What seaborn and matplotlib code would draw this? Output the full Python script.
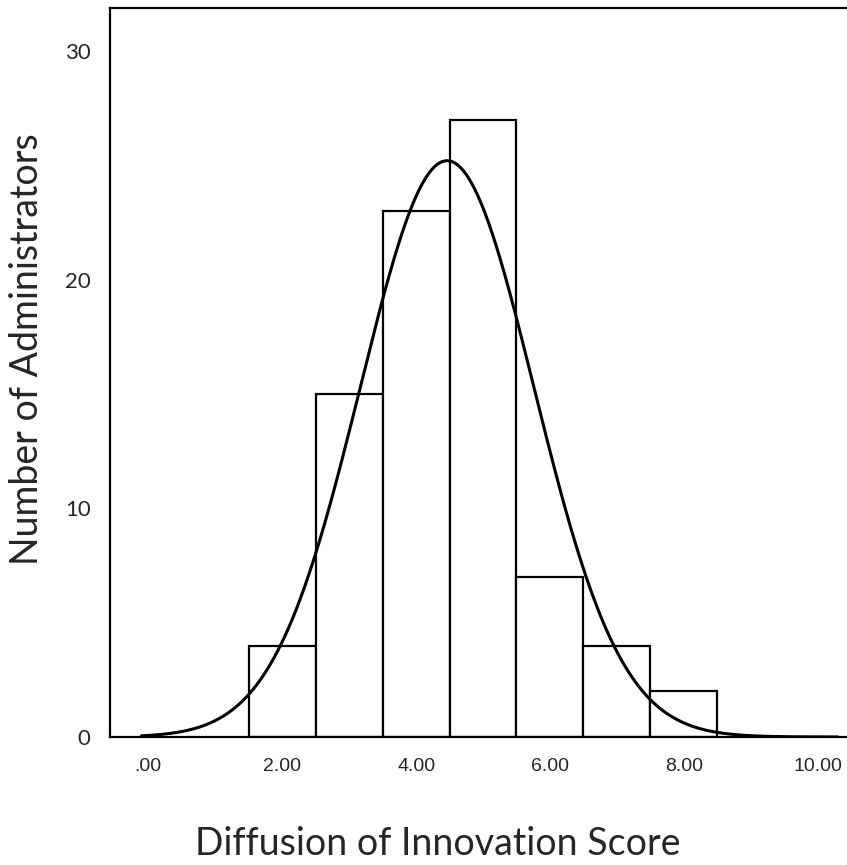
import numpy as np
import pandas as pd
import matplotlib
matplotlib.use("Agg")
import matplotlib.pyplot as plt
import seaborn as sns

# Data
bin_centers = [2, 3, 4, 5, 6, 7, 8]
counts = [4, 15, 23, 27, 7, 4, 2]
x_ticks = [0, 2, 4, 6, 8, 10]
x_tick_labels = [".00", "2.00", "4.00", "6.00", "8.00", "10.00"]
y_ticks = [0, 10, 20, 30]

scores = np.repeat(bin_centers, counts).astype(float)
df = pd.DataFrame({"score": scores})
edges = np.arange(1.5, 9.0, 1.0)

sns.set_theme(style="white")
plt.rcParams["font.family"] = ["Liberation Sans", "DejaVu Sans"]

fig = plt.figure(figsize=(8.47, 8.65), dpi=100)
ax = fig.add_axes([0.13, 0.148, 0.875, 0.843])

sns.histplot(data=df, x="score", bins=edges, stat="count", color="white",
             edgecolor="black", linewidth=1.6, alpha=1, ax=ax)

# Normal curve fitted to the data (SPSS style)
mu = df["score"].mean()
sd = df["score"].std()
xs = np.linspace(-0.1, 10.3, 400)
ys = len(df) * 1.0 * np.exp(-0.5 * ((xs - mu) / sd) ** 2) / (sd * np.sqrt(2 * np.pi))
curve = pd.DataFrame({"x": xs, "y": ys})
sns.lineplot(data=curve, x="x", y="y", color="black", linewidth=2.2, ax=ax)

ax.set_xlim(-0.57, 10.5)
ax.set_ylim(0, 31.9)
ax.set_xticks(x_ticks)
ax.set_xticklabels(x_tick_labels, fontsize=14)
ax.set_yticks(y_ticks)
ax.set_yticklabels([str(v) for v in y_ticks], fontsize=16, family=["Lato", "DejaVu Sans"])
ax.tick_params(axis="x", direction="out", length=7, width=1.5, color="black", pad=8)
ax.tick_params(axis="y", direction="out", length=2, width=1.5, color="black", pad=12)
for s in ["left", "bottom", "top", "right"]:
    ax.spines[s].set_color("black")
    ax.spines[s].set_linewidth(1.6)
ax.grid(False)

ax.set_xlabel("Diffusion of Innovation Score", fontsize=27, family=["Lato", "DejaVu Sans"])
ax.set_ylabel("Number of Administrators", fontsize=27, family=["Lato", "DejaVu Sans"])
ax.xaxis.set_label_coords(0.442, -0.122)
ax.yaxis.set_label_coords(-0.088, 0.532)

fig.savefig("out.png", dpi=100, facecolor="white")
